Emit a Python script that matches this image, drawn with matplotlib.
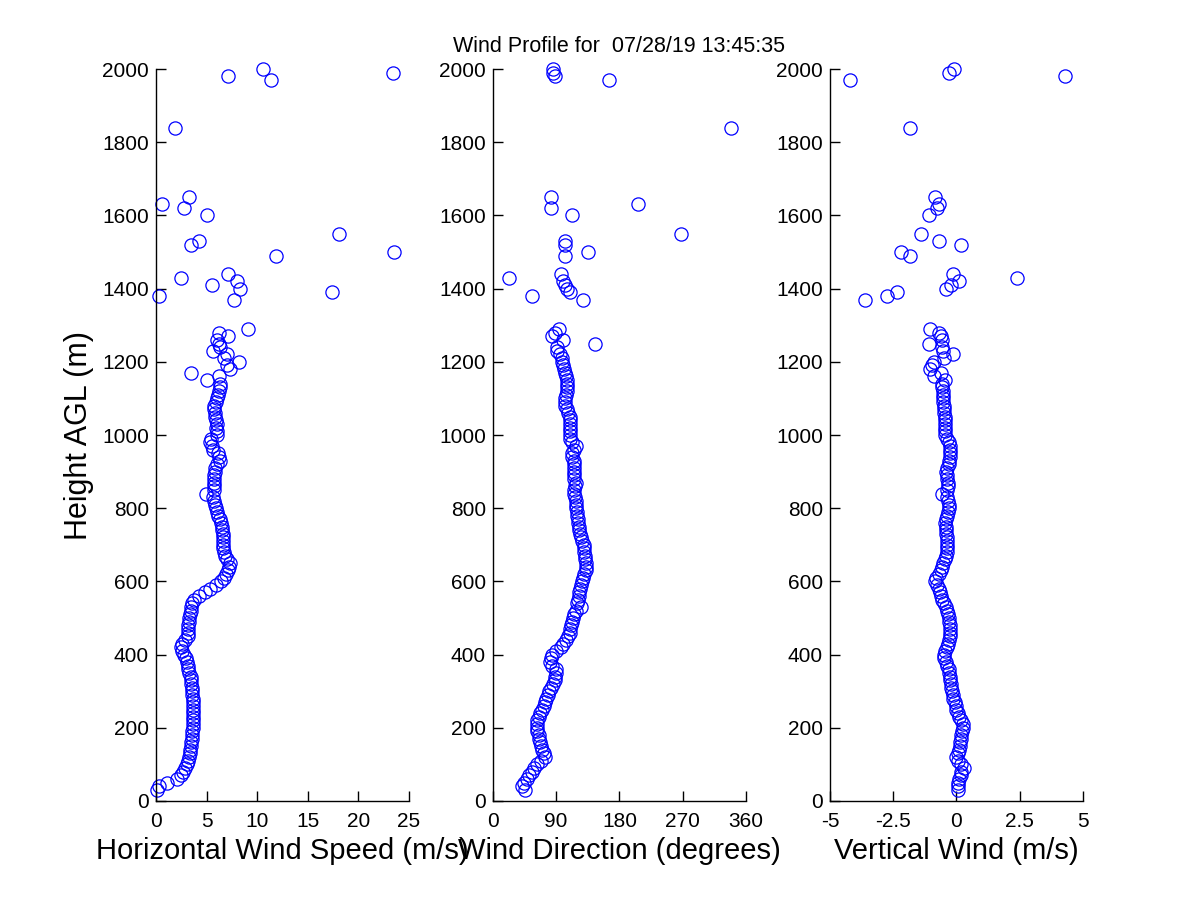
import matplotlib
matplotlib.use("Agg")
import matplotlib.pyplot as plt

plt.rcParams["font.family"] = ["Liberation Sans", "DejaVu Sans"]
plt.rcParams["axes.unicode_minus"] = False

TITLE = "Wind Profile for  07/28/19 13:45:35"

# range gates below 1300 m (every 10 m)
heights_low = [
    30, 40, 50, 60, 70, 80, 90, 100, 110, 120,
    130, 140, 150, 160, 170, 180, 190, 200, 210, 220,
    230, 240, 250, 260, 270, 280, 290, 300, 310, 320,
    330, 340, 350, 360, 370, 380, 390, 400, 410, 420,
    430, 440, 450, 460, 470, 480, 490, 500, 510, 520,
    530, 540, 550, 560, 570, 580, 590, 600, 610, 620,
    630, 640, 650, 660, 670, 680, 690, 700, 710, 720,
    730, 740, 750, 760, 770, 780, 790, 800, 810, 820,
    830, 840, 850, 860, 870, 880, 890, 900, 910, 920,
    930, 940, 950, 960, 970, 980, 990, 1000, 1010, 1020,
    1030, 1040, 1050, 1060, 1070, 1080, 1090, 1100, 1110, 1120,
    1130, 1140, 1150, 1160, 1170, 1180, 1190, 1200, 1210, 1220,
    1230, 1240, 1250, 1260, 1270, 1280, 1290,
]
speed_low = [
    0.1, 0.3, 1.1, 2.1, 2.5, 2.7, 2.9, 3.1, 3.2, 3.3,
    3.4, 3.4, 3.45, 3.5, 3.55, 3.55, 3.6, 3.65, 3.7, 3.7,
    3.7, 3.7, 3.7, 3.7, 3.65, 3.65, 3.6, 3.6, 3.55, 3.5,
    3.45, 3.45, 3.3, 3.2, 3.2, 3.1, 2.95, 2.8, 2.6, 2.5,
    2.6, 2.9, 3.2, 3.2, 3.2, 3.2, 3.25, 3.3, 3.35, 3.45,
    3.5, 3.6, 3.8, 4.3, 4.8, 5.3, 5.9, 6.4, 6.7, 6.9,
    7.1, 7.2, 7.3, 7.0, 6.8, 6.7, 6.65, 6.6, 6.65, 6.6,
    6.6, 6.5, 6.5, 6.4, 6.3, 6.1, 6.0, 5.9, 5.8, 5.7,
    5.6, 4.9, 5.7, 5.7, 5.7, 5.75, 5.7, 5.8, 5.85, 6.0,
    6.3, 6.2, 6.1, 5.6, 5.5, 5.35, 5.4, 6.0, 6.0, 5.9,
    6.0, 5.9, 5.85, 5.8, 5.7, 5.7, 5.9, 6.0, 6.1, 6.2,
    6.35, 6.3, 5.0, 6.2, 3.5, 7.3, 7.0, 8.2, 6.7, 7.0,
    5.6, 6.3, 6.2, 6.0, 7.1, 6.2, 9.1,
]
direction_low = [
    46, 42, 44, 48, 52, 55, 58, 62, 68, 74,
    72, 70, 69, 67, 66, 65, 63, 62, 62, 63,
    65, 67, 70, 72, 74, 76, 78, 80, 83, 86,
    88, 89, 90, 90, 84, 81, 82, 84, 90, 97,
    100, 104, 107, 109, 110, 111, 113, 114, 116, 118,
    126, 120, 121, 122, 123, 124, 125, 127, 128, 130,
    132, 133, 132, 131, 131, 130, 130, 129, 127, 126,
    124, 122, 122, 121, 121, 120, 119, 118, 118, 118,
    117, 116, 115, 117, 118, 116, 115, 115, 115, 116,
    115, 113, 113, 116, 118, 113, 110, 110, 110, 110,
    110, 109, 109, 107, 105, 103, 103, 103, 104, 105,
    105, 105, 105, 104, 103, 101, 100, 99, 98, 95,
    91, 91, 145, 100, 84, 89, 94,
]
vertical_low = [
    0.05, 0.05, 0.05, 0.1, 0.17, 0.2, 0.3, 0.17, 0.05, 0.0,
    0.05, 0.12, 0.15, 0.16, 0.17, 0.2, 0.22, 0.27, 0.25, 0.18,
    0.1, 0.05, 0.0, -0.03, -0.07, -0.12, -0.15, -0.18, -0.2, -0.22,
    -0.24, -0.25, -0.28, -0.31, -0.35, -0.42, -0.5, -0.48, -0.43, -0.38,
    -0.32, -0.3, -0.27, -0.25, -0.25, -0.27, -0.3, -0.3, -0.33, -0.36,
    -0.42, -0.5, -0.56, -0.6, -0.65, -0.7, -0.78, -0.83, -0.8, -0.7,
    -0.62, -0.56, -0.52, -0.46, -0.4, -0.38, -0.36, -0.36, -0.37, -0.38,
    -0.39, -0.4, -0.42, -0.43, -0.4, -0.35, -0.33, -0.31, -0.3, -0.32,
    -0.35, -0.56, -0.36, -0.34, -0.33, -0.35, -0.38, -0.39, -0.35, -0.3,
    -0.28, -0.25, -0.25, -0.25, -0.26, -0.3, -0.38, -0.43, -0.43, -0.43,
    -0.44, -0.45, -0.46, -0.47, -0.48, -0.5, -0.51, -0.52, -0.53, -0.54,
    -0.55, -0.56, -0.43, -0.87, -0.6, -1.03, -0.97, -0.9, -0.5, -0.12,
    -0.52, -0.56, -1.1, -0.56, -0.59, -0.7, -1.03,
]

# sparse returns above 1300 m
heights_high = [1370, 1380, 1390, 1400, 1410, 1420, 1430, 1440, 1490, 1500, 1520,
                1530, 1550, 1600, 1620, 1630, 1650, 1840, 1970, 1980, 1990, 2000]
speed_high = [7.7, 0.25, 17.4, 8.3, 5.5, 8.0, 2.45, 7.15, 11.9, 23.5, 3.5,
              4.3, 18.1, 5.0, 2.8, 0.55, 3.3, 1.9, 11.4, 7.15, 23.4, 10.6]
direction_high = [128, 56, 110, 105, 103, 100, 23, 97, 103, 135, 103,
                  103, 268, 113, 82, 207, 82, 339, 165, 88, 86, 85]
vertical_high = [-3.6, -2.75, -2.35, -0.4, -0.2, 0.1, 2.4, -0.15, -1.85, -2.2, 0.2,
                 -0.7, -1.4, -1.1, -0.75, -0.7, -0.85, -1.85, -4.2, 4.3, -0.3, -0.1]

heights = heights_low + heights_high
panels = [
    (speed_low + speed_high, "Horizontal Wind Speed (m/s)", (0, 25),
     [0, 5, 10, 15, 20, 25], ["0", "5", "10", "15", "20", "25"]),
    (direction_low + direction_high, "Wind Direction (degrees)", (0, 360),
     [0, 90, 180, 270, 360], ["0", "90", "180", "270", "360"]),
    (vertical_low + vertical_high, "Vertical Wind (m/s)", (-5, 5),
     [-5, -2.5, 0, 2.5, 5], ["-5", "-2.5", "0", "2.5", "5"]),
]

fig = plt.figure(figsize=(12, 9), dpi=100)
lefts = [0.13, 0.4108, 0.6916]

for i, (values, xlabel, xlim, xticks, xticklabels) in enumerate(panels):
    ax = fig.add_axes([lefts[i], 0.11, 0.2107, 0.8133])
    ax.plot(values, heights, "o", markerfacecolor="none", markeredgecolor="#0000ff",
            markersize=9.5, markeredgewidth=0.9, linestyle="none", clip_on=False)
    ax.set_xlim(*xlim)
    ax.set_ylim(0, 2000)
    ax.set_xticks(xticks)
    ax.set_xticklabels(xticklabels)
    ax.set_yticks(range(0, 2001, 200))
    ax.spines["top"].set_visible(False)
    ax.spines["right"].set_visible(False)
    for side in ("left", "bottom"):
        ax.spines[side].set_linewidth(1.0)
    ax.tick_params(direction="in", length=7, width=1.0, labelsize=15, pad=5)
    ax.tick_params(axis="x", pad=8)
    ax.set_xlabel(xlabel, fontsize=21, labelpad=4)
    if i == 0:
        ax.set_ylabel("Height AGL (m)", fontsize=22, labelpad=6)
    if i == 1:
        ax.set_title(TITLE, fontsize=15.5, pad=12)

fig.savefig("out.png", dpi=100)
